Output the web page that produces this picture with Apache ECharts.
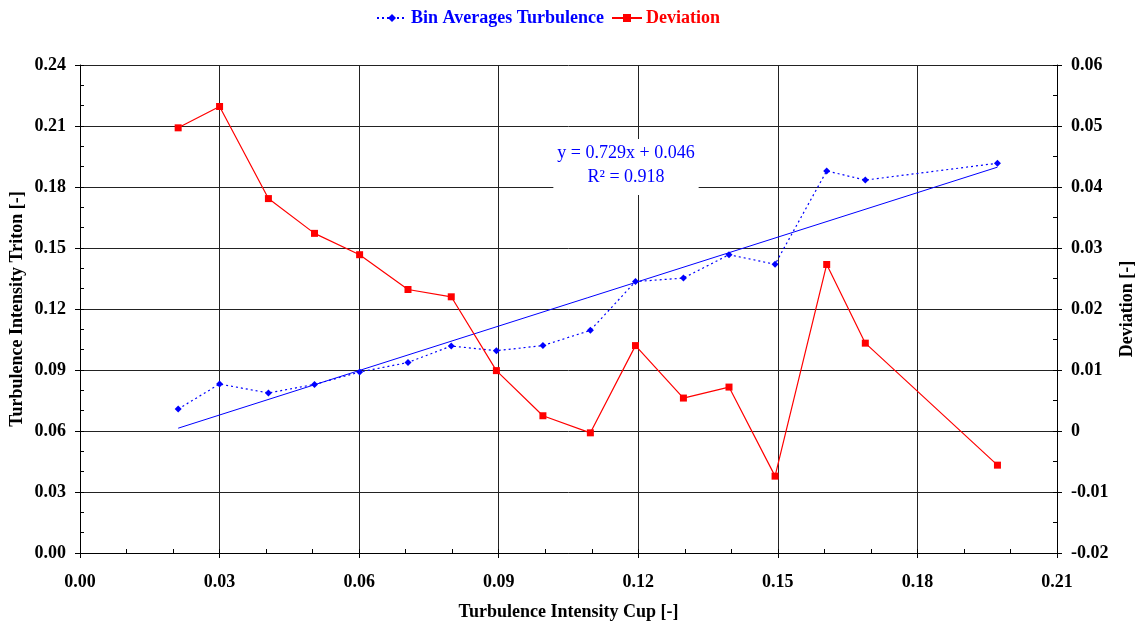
<!DOCTYPE html>
<html>
<head>
<meta charset="utf-8">
<script src="https://cdn.jsdelivr.net/npm/echarts@6/dist/echarts.min.js"></script>
<style>
  html, body { margin: 0; padding: 0; background: #fff; }
  #chart { width: 1141px; height: 622px; }
</style>
</head>
<body>
<div id="chart"></div>
<script>
// Bin centres of cup turbulence intensity
const cupTI = [0.0211, 0.0300, 0.0405, 0.0504, 0.0601, 0.0705, 0.0798, 0.0895, 0.0995, 0.1097,
               0.1194, 0.1297, 0.1395, 0.1494, 0.1605, 0.1688, 0.1972];
// Bin-averaged Triton turbulence intensity
const tritonTI = [0.0708, 0.0831, 0.0787, 0.0829, 0.0890, 0.0937, 0.1018, 0.0995, 0.1020, 0.1095,
                  0.1335, 0.1352, 0.1467, 0.1420, 0.1879, 0.1834, 0.1917];
// Triton minus cup
const deviation = [0.0497, 0.0532, 0.0381, 0.0324, 0.0289, 0.0232, 0.0220, 0.0099, 0.0025, -0.0003,
                   0.0140, 0.0054, 0.0072, -0.0074, 0.0273, 0.0144, -0.0056];
// Linear regression of Triton on cup
const fitSlope = 0.729;
const fitIntercept = 0.046;
const fitR2 = 0.918;

const SERIF = '"Liberation Serif", "DejaVu Serif", serif';
const BLUE = '#0000ff';
const RED = '#ff0000';

const binPoints = cupTI.map((x, i) => [x, tritonTI[i]]);
const devPoints = cupTI.map((x, i) => [x, deviation[i]]);
const xFirst = cupTI[0], xLast = cupTI[cupTI.length - 1];
const fitPoints = [[xFirst, fitSlope * xFirst + fitIntercept], [xLast, fitSlope * xLast + fitIntercept]];

const labelFont = { fontFamily: SERIF, fontWeight: 'bold', fontSize: 18, color: '#000' };
const nameFont = { fontFamily: SERIF, fontWeight: 'bold', fontSize: 18, color: '#000' };
const gridLine = { show: true, lineStyle: { color: '#222', width: 1 } };
const blackLine = { show: true, onZero: false, lineStyle: { color: '#000', width: 1 } };

const chart = echarts.init(document.getElementById('chart'), null, { renderer: 'canvas' });

chart.setOption({
  animation: false,
  backgroundColor: '#fff',
  grid: { left: 80, right: 84, top: 65, bottom: 69, outerBoundsMode: 'none' },
  legend: {
    top: 4,
    left: 371,
    itemWidth: 30,
    itemHeight: 10,
    itemGap: 7,
    textStyle: { fontFamily: SERIF, fontWeight: 'bold', fontSize: 18, padding: [0, 0, 0, -1] },
    data: [
      { name: 'Bin Averages Turbulence', textStyle: { color: BLUE } },
      { name: 'Deviation', textStyle: { color: RED } }
    ]
  },
  xAxis: [
    {
      type: 'value', position: 'bottom', min: 0, max: 0.21, interval: 0.03,
      name: 'Turbulence Intensity Cup [-]', nameLocation: 'middle', nameGap: 50,
      nameMoveOverlap: false,
      nameTextStyle: nameFont,
      axisLine: blackLine,
      axisTick: { show: true, inside: false, length: 5, lineStyle: { color: '#000' } },
      axisLabel: Object.assign({ margin: 20, formatter: v => v.toFixed(2) }, labelFont),
      splitLine: gridLine
    },
    {
      type: 'value', position: 'bottom', min: 0, max: 0.21, interval: 0.01,
      axisLine: { show: false, onZero: false },
      axisTick: { show: true, inside: true, length: 4, lineStyle: { color: '#000' } },
      axisLabel: { show: false },
      splitLine: { show: false }
    }
  ],
  yAxis: [
    {
      type: 'value', position: 'left', min: 0, max: 0.24, interval: 0.03,
      name: 'Turbulence Intensity Triton [-]', nameLocation: 'middle', nameGap: 54, nameRotate: 90,
      nameMoveOverlap: false,
      nameTextStyle: nameFont,
      axisLine: blackLine,
      axisTick: { show: true, inside: false, length: 5, lineStyle: { color: '#000' } },
      axisLabel: Object.assign({ margin: 14, formatter: v => v.toFixed(2) }, labelFont),
      splitLine: gridLine
    },
    {
      type: 'value', position: 'right', min: -0.02, max: 0.06, interval: 0.01,
      name: 'Deviation [-]', nameLocation: 'middle', nameGap: 61, nameRotate: 90,
      nameMoveOverlap: false,
      nameTextStyle: nameFont,
      axisLine: blackLine,
      axisTick: { show: true, inside: false, length: 5, lineStyle: { color: '#000' } },
      axisLabel: Object.assign({
        margin: 14,
        formatter: v => (Math.abs(v) < 1e-9 ? '0' : v.toFixed(2))
      }, labelFont),
      splitLine: { show: false }
    },
    {
      type: 'value', position: 'left', min: 0, max: 0.24, interval: 0.01,
      axisLine: { show: false, onZero: false },
      axisTick: { show: true, inside: true, length: 4, lineStyle: { color: '#000' } },
      axisLabel: { show: false },
      splitLine: { show: false }
    },
    {
      type: 'value', position: 'right', min: -0.02, max: 0.06, interval: 0.005,
      axisLine: { show: false, onZero: false },
      axisTick: { show: true, inside: true, length: 4, lineStyle: { color: '#000' } },
      axisLabel: { show: false },
      splitLine: { show: false }
    }
  ],
  graphic: [
    {
      type: 'text',
      x: 626,
      y: 139,
      z: 10,
      style: {
        text: 'y = ' + fitSlope.toFixed(3) + 'x + ' + fitIntercept.toFixed(3) + '\nR² = ' + fitR2.toFixed(3),
        font: '18px ' + SERIF,
        fill: BLUE,
        align: 'center',
        verticalAlign: 'top',
        lineHeight: 24,
        backgroundColor: '#fff',
        padding: [2, 4, 6, 4]
      }
    }
  ],
  series: [
    {
      name: 'Trend',
      type: 'line',
      xAxisIndex: 0, yAxisIndex: 0,
      data: fitPoints,
      showSymbol: false,
      symbol: 'none',
      lineStyle: { color: BLUE, width: 1 },
      silent: true,
      z: 2
    },
    {
      name: 'Bin Averages Turbulence',
      type: 'line',
      xAxisIndex: 0, yAxisIndex: 0,
      data: binPoints,
      symbol: 'diamond',
      symbolSize: 7,
      itemStyle: { color: BLUE },
      lineStyle: { color: BLUE, width: 1.2, type: [2, 3] },
      z: 3
    },
    {
      name: 'Deviation',
      type: 'line',
      xAxisIndex: 0, yAxisIndex: 1,
      data: devPoints,
      symbol: 'rect',
      symbolSize: 7,
      itemStyle: { color: RED },
      lineStyle: { color: RED, width: 1.2 },
      z: 4
    }
  ]
});
</script>
</body>
</html>
